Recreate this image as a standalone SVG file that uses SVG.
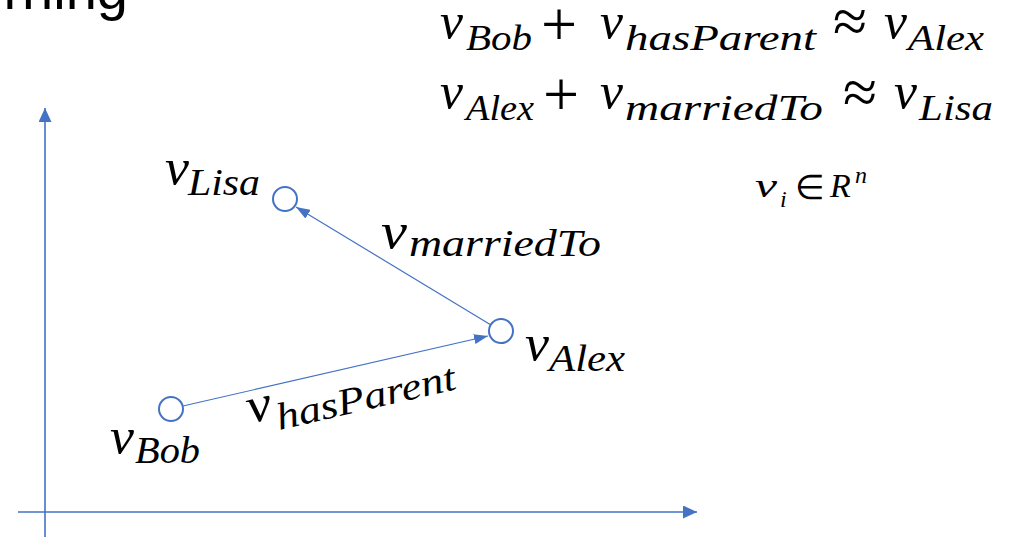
<svg xmlns="http://www.w3.org/2000/svg" width="1016" height="537" viewBox="0 0 1016 537">
<style>
.ax{stroke:#4472C4;stroke-width:1.6;fill:none}
.cn{stroke:#4472C4;stroke-width:1.2;fill:none}
.node{stroke:#4472C4;stroke-width:2;fill:#fff}
</style>
<defs>
<marker id="ah" viewBox="0 0 14 10" refX="14" refY="5" markerWidth="14" markerHeight="10" markerUnits="userSpaceOnUse" orient="auto">
<path d="M0,0 L14,5 L0,10 Z" fill="#4472C4"/>
</marker>
<marker id="axh" viewBox="0 0 14 13" refX="14" refY="6.5" markerWidth="14" markerHeight="13" markerUnits="userSpaceOnUse" orient="auto">
<path d="M0,0 L14,6.5 L0,13 Z" fill="#4472C4"/>
</marker>
</defs>
<rect width="1016" height="537" fill="#fff"/>

<text x="128" y="9" text-anchor="end" font-family="Liberation Sans, Arial, sans-serif" font-size="56" fill="#000">rning</text>

<g id="axes">
<line class="ax" x1="45" y1="537" x2="45" y2="108" marker-end="url(#axh)"/>
<line class="ax" x1="18" y1="512" x2="697" y2="512" marker-end="url(#axh)"/>
</g>

<g id="equations" font-family="Liberation Serif, Times New Roman, serif" fill="#000">
<g font-style="italic">
<text x="440" y="38" font-size="50" textLength="23" lengthAdjust="spacingAndGlyphs">v</text>
<text x="466" y="50" font-size="36" textLength="66" lengthAdjust="spacingAndGlyphs">Bob</text>
<text x="600" y="38" font-size="50" textLength="23" lengthAdjust="spacingAndGlyphs">v</text>
<text x="625" y="50" font-size="36" textLength="191" lengthAdjust="spacingAndGlyphs">hasParent</text>
<text x="884" y="38" font-size="50" textLength="23" lengthAdjust="spacingAndGlyphs">v</text>
<text x="908" y="50" font-size="36" textLength="76" lengthAdjust="spacingAndGlyphs">Alex</text>
<text x="440" y="108" font-size="50" textLength="23" lengthAdjust="spacingAndGlyphs">v</text>
<text x="466" y="120" font-size="36" textLength="68" lengthAdjust="spacingAndGlyphs">Alex</text>
<text x="600" y="108" font-size="50" textLength="23" lengthAdjust="spacingAndGlyphs">v</text>
<text x="625" y="120" font-size="36" textLength="198" lengthAdjust="spacingAndGlyphs">marriedTo</text>
<text x="894" y="108" font-size="50" textLength="23" lengthAdjust="spacingAndGlyphs">v</text>
<text x="919" y="120" font-size="36" textLength="74" lengthAdjust="spacingAndGlyphs">Lisa</text>
<text x="755" y="197" font-size="34" textLength="22" lengthAdjust="spacingAndGlyphs">v</text>
<text x="780" y="207" font-size="24">i</text>
<text x="830" y="197" font-size="34">R</text>
<text x="855" y="183" font-size="24">n</text>
</g>
<text x="559" y="46" text-anchor="middle" font-size="64">+</text>
<text x="850" y="42" text-anchor="middle" font-size="62">≈</text>
<text x="561" y="116" text-anchor="middle" font-size="64">+</text>
<text x="860" y="113" text-anchor="middle" font-size="62">≈</text>
<text x="810" y="199" text-anchor="middle" font-size="34">∈</text>
</g>

<g id="connectors">
<line class="cn" x1="183" y1="406" x2="488" y2="336" marker-end="url(#ah)"/>
<line class="cn" x1="491" y1="325" x2="296" y2="207" marker-end="url(#ah)"/>
</g>

<g font-family="Liberation Serif, Times New Roman, serif" font-style="italic" fill="#000">
<g id="node-lisa">
<circle class="node" cx="285" cy="199" r="12"/>
<text x="165" y="184" font-size="50" textLength="24" lengthAdjust="spacingAndGlyphs">v</text>
<text x="188" y="195" font-size="38" textLength="72" lengthAdjust="spacingAndGlyphs">Lisa</text>
</g>
<g id="node-alex">
<circle class="node" cx="501" cy="331" r="12"/>
<text x="525" y="360" font-size="50" textLength="24" lengthAdjust="spacingAndGlyphs">v</text>
<text x="549" y="371" font-size="38" textLength="76" lengthAdjust="spacingAndGlyphs">Alex</text>
</g>
<g id="node-bob">
<circle class="node" cx="171" cy="409" r="12"/>
<text x="110" y="453" font-size="50" textLength="24" lengthAdjust="spacingAndGlyphs">v</text>
<text x="135" y="463" font-size="38" textLength="65" lengthAdjust="spacingAndGlyphs">Bob</text>
</g>
<g id="label-married">
<text x="381" y="248" font-size="50" textLength="26" lengthAdjust="spacingAndGlyphs">v</text>
<text x="409" y="256" font-size="38" textLength="192" lengthAdjust="spacingAndGlyphs">marriedTo</text>
</g>
<g id="label-hasparent" transform="rotate(-13 252 423)">
<text x="250" y="423" font-size="50" textLength="25" lengthAdjust="spacingAndGlyphs">v</text>
<text x="277" y="436" font-size="38" textLength="183" lengthAdjust="spacingAndGlyphs">hasParent</text>
</g>
</g>
</svg>
